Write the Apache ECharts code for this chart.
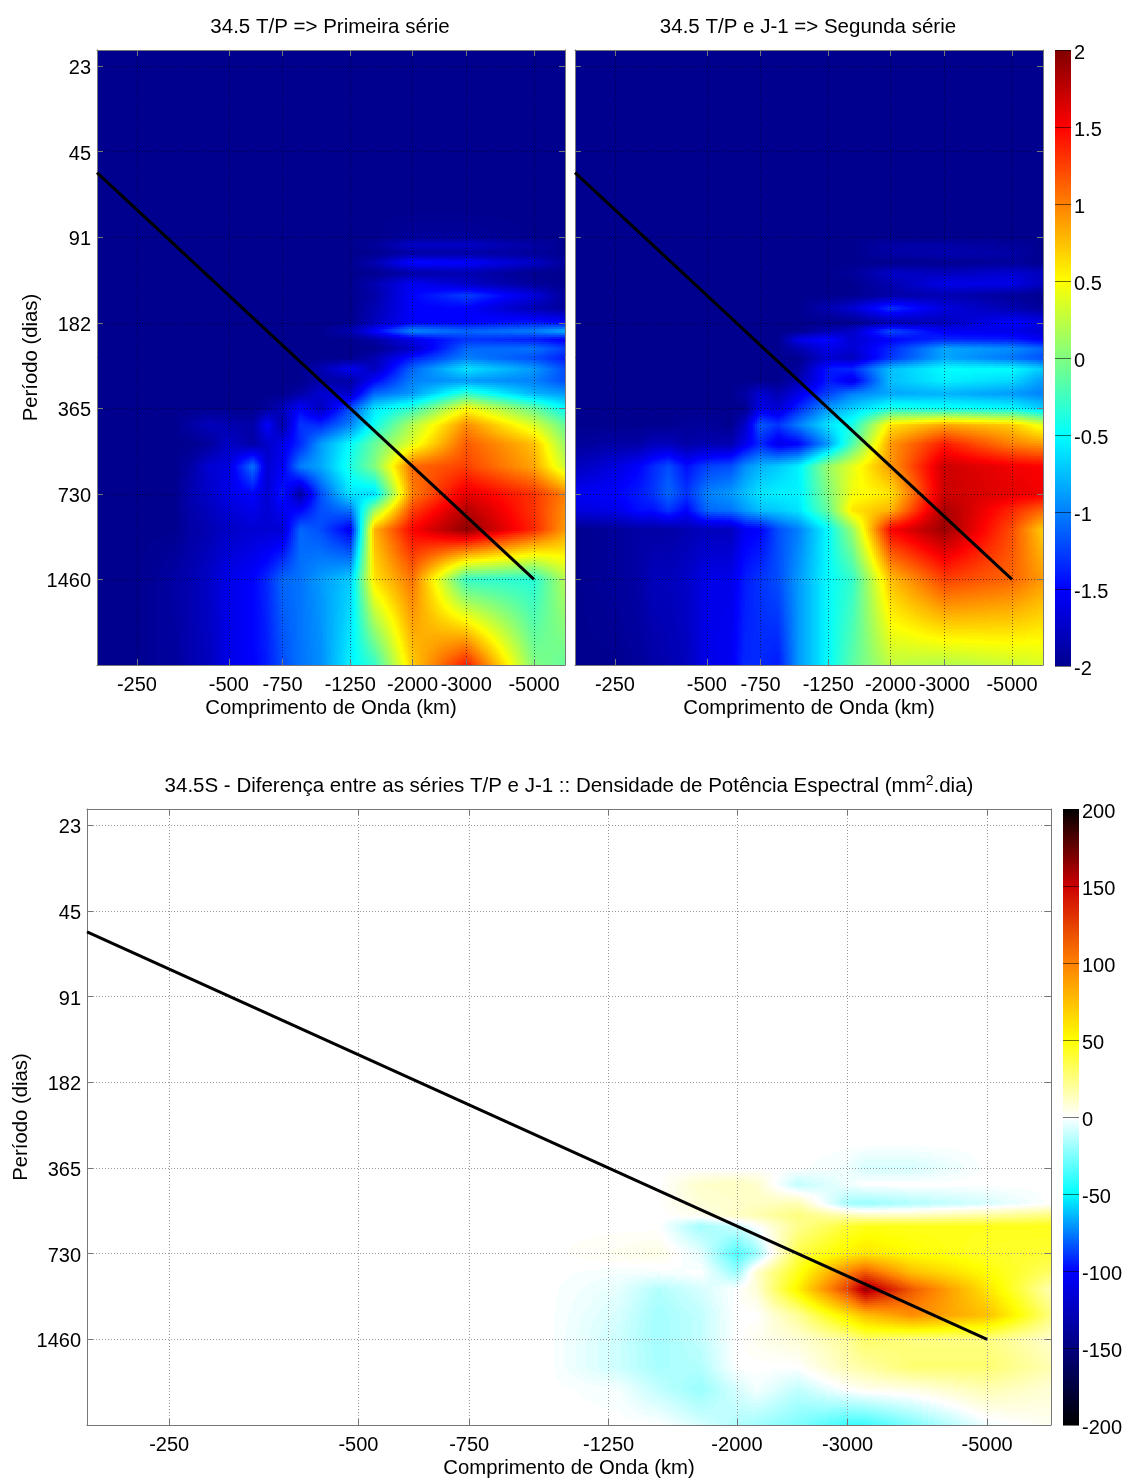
<!DOCTYPE html>
<html>
<head>
<meta charset="utf-8">
<script src="https://cdn.jsdelivr.net/npm/echarts@6/dist/echarts.min.js"></script>
<style>
  html, body { margin: 0; padding: 0; background: #fff; }
  #main { width: 1126px; height: 1479px; }
</style>
</head>
<body>
<div id="main"></div>
<script>
// wavelength (km, sign only on the labels) and period (days) of the spectrum samples
const colsKm = [185, 250, 300, 333, 375, 429, 500, 600, 667, 750, 857, 1000, 1250, 1500, 2000, 3000, 5000, 6318]
const rowsDays = [20, 73, 91, 97, 104, 112, 122, 133, 146, 162, 182, 195, 209, 225, 243, 265, 292, 324, 365, 417, 487, 584, 730, 834, 973, 1460, 2920]

const primeiraSerie = [
  [-2,-2,-2,-2,-2,-2,-2,-2,-2,-2,-2,-2,-2,-2,-2,-2,-2,-2],
  [-2,-2,-2,-2,-2,-2,-2,-2,-2,-2,-2,-2,-2,-2,-2,-2,-2,-2],
  [-2,-2,-2,-2,-2,-2,-2,-2,-2,-2,-2,-2,-2,-2,-1.95,-1.95,-2,-2],
  [-2,-2,-2,-2,-2,-2,-2,-2,-2,-2,-2,-2,-2,-1.95,-1.75,-1.75,-1.9,-2],
  [-2,-2,-2,-2,-2,-2,-2,-2,-2,-2,-2,-2,-2,-2,-1.9,-1.9,-1.95,-2],
  [-2,-2,-2,-2,-2,-2,-2,-2,-2,-2,-2,-2,-2,-1.85,-1.45,-1.5,-1.75,-1.95],
  [-2,-2,-2,-2,-2,-2,-2,-2,-2,-2,-2,-2,-2,-2,-1.9,-1.85,-2,-2],
  [-2,-2,-2,-2,-2,-2,-2,-2,-2,-2,-2,-2,-2,-1.85,-1.55,-1.75,-1.95,-2],
  [-2,-2,-2,-2,-2,-2,-2,-2,-2,-2,-2,-2,-2,-1.9,-1.5,-1.25,-1.65,-1.95],
  [-2,-2,-2,-2,-2,-2,-2,-2,-2,-2,-2,-2,-2,-1.85,-1.5,-1.5,-1.85,-1.95],
  [-2,-2,-2,-2,-2,-2,-2,-2,-2,-2,-2,-2,-2,-1.8,-1.5,-1.5,-1.4,-1.5],
  [-2,-2,-2,-2,-2,-2,-2,-2,-2,-2,-2,-2,-1.85,-1.5,-0.95,-1.1,-1,-0.8],
  [-2,-2,-2,-2,-2,-2,-2,-2,-2,-2,-2,-2,-2,-1.9,-1.6,-1.3,-1.4,-1.55],
  [-2,-2,-2,-2,-2,-2,-2,-2,-2,-2,-2,-2,-2,-2,-1.75,-1.1,-1.05,-1.25],
  [-2,-2,-2,-2,-2,-2,-2,-2,-2,-2,-2,-2,-2,-1.85,-1.4,-1,-1.2,-1.4],
  [-2,-2,-2,-2,-2,-2,-2,-2,-2,-2,-2,-1.85,-1.55,-1.8,-1.1,-0.6,-0.9,-1.2],
  [-2,-2,-2,-2,-2,-2,-2,-2,-2,-2,-2,-1.9,-1.9,-1.5,-1,-0.9,-1,-1.2],
  [-2,-2,-2,-2,-2,-2,-2,-2,-2,-2,-1.9,-1.7,-1.75,-1.1,-0.9,-0.3,-0.8,-0.9],
  [-2,-2,-2,-2,-2,-2,-2,-2,-1.95,-1.8,-1.5,-1.8,-1.2,-0.6,-0.3,0.5,-0.1,-0.5],
  [-2,-2,-2,-2,-1.9,-1.8,-1.85,-1.9,-1.5,-1.9,-1.3,-1.35,-1,-0.45,0.2,0.95,0.35,-0.1],
  [-2,-2,-2,-2,-2,-1.95,-1.75,-1.9,-1.75,-1.6,-1.35,-0.9,-0.5,-0.1,0.4,1.15,0.75,0.1],
  [-2,-2,-2,-2,-1.9,-1.7,-1.65,-1.05,-1.7,-1.55,-1,-0.85,-0.4,0,1.1,1.25,0.85,0.3],
  [-2,-2,-2,-2,-1.85,-1.75,-1.6,-1.5,-1.7,-1.4,-1.9,-1.2,-0.6,-0.65,1,1.6,1.3,1],
  [-2,-2,-2,-2,-1.88,-1.8,-1.68,-1.6,-1.7,-1.55,-1.5,-1.2,-1.05,0.1,1.25,1.8,1.3,0.95],
  [-2,-2,-2,-2,-1.9,-1.85,-1.75,-1.7,-1.7,-1.7,-1.1,-1.2,-1.55,0.8,1.5,1.95,1.35,0.9],
  [-2,-2,-1.95,-1.9,-1.85,-1.75,-1.6,-1.5,-1.35,-1.1,-1.05,-0.9,-0.7,0.6,1.05,-0.3,-0.35,0.2],
  [-2,-2,-1.95,-1.95,-1.85,-1.8,-1.6,-1.5,-1.4,-1.2,-1.05,-0.95,-0.55,-0.3,0.7,1.4,0,-0.1]
]

const segundaSerie = [
  [-2,-2,-2,-2,-2,-2,-2,-2,-2,-2,-2,-2,-2,-2,-2,-2,-2,-2],
  [-2,-2,-2,-2,-2,-2,-2,-2,-2,-2,-2,-2,-2,-2,-2,-2,-2,-2],
  [-2,-2,-2,-2,-2,-2,-2,-2,-2,-2,-2,-2,-2,-2,-2,-2,-2,-2],
  [-2,-2,-2,-2,-2,-2,-2,-2,-2,-2,-2,-2,-2,-2,-1.9,-1.9,-1.95,-2],
  [-2,-2,-2,-2,-2,-2,-2,-2,-2,-2,-2,-2,-2,-2,-1.9,-1.85,-1.9,-2],
  [-2,-2,-2,-2,-2,-2,-2,-2,-2,-2,-2,-2,-2,-2,-2,-2,-1.95,-2],
  [-2,-2,-2,-2,-2,-2,-2,-2,-2,-2,-2,-2,-2,-1.95,-1.75,-1.8,-1.7,-1.8],
  [-2,-2,-2,-2,-2,-2,-2,-2,-2,-2,-2,-2,-2,-2,-1.85,-1.6,-1.6,-1.8],
  [-2,-2,-2,-2,-2,-2,-2,-2,-2,-2,-2,-2,-2,-2,-1.9,-1.85,-1.95,-2],
  [-2,-2,-2,-2,-2,-2,-2,-2,-2,-2,-2,-2,-1.85,-1.7,-1.3,-1.65,-1.85,-1.95],
  [-2,-2,-2,-2,-2,-2,-2,-2,-2,-2,-2,-2,-2,-2,-1.85,-1.8,-1.5,-1.6],
  [-2,-2,-2,-2,-2,-2,-2,-2,-2,-2,-2,-2,-1.85,-1.75,-1.2,-1.55,-1.6,-1.7],
  [-2,-2,-2,-2,-2,-2,-2,-2,-2,-2,-2,-1.6,-1.45,-1.7,-1.5,-1.35,-1.4,-1.55],
  [-2,-2,-2,-2,-2,-2,-2,-2,-2,-2,-2,-1.85,-1.6,-1.7,-1.35,-0.85,-0.95,-1.1],
  [-2,-2,-2,-2,-2,-2,-2,-2,-2,-2,-2,-2,-1.7,-1.8,-1.3,-0.85,-1.05,-1.2],
  [-2,-2,-2,-2,-2,-2,-2,-2,-2,-2,-2,-1.95,-1.4,-1.35,-0.75,-0.5,-0.5,-0.7],
  [-2,-2,-2,-2,-2,-2,-2,-2,-2,-2,-2,-1.85,-1.4,-1.6,-0.75,-0.55,-0.65,-0.9],
  [-2,-2,-2,-2,-2,-2,-2,-2,-1.9,-1.7,-1.85,-1.6,-1.25,-1,-0.85,-0.8,-0.9,-1],
  [-2,-2,-2,-2,-2,-2,-2,-2,-2,-1.6,-1.7,-1.35,-0.9,-0.7,-0.4,-0.45,-0.5,-0.7],
  [-2,-2,-2,-2,-2,-1.95,-1.95,-2,-1.75,-1.15,-1.3,-1,-0.6,-0.4,0.6,0.85,0.7,0.4],
  [-1.95,-1.9,-1.9,-1.8,-1.8,-1.9,-1.85,-1.85,-1.6,-1.35,-1.6,-1.5,-0.9,-0.2,0.9,1.4,1,0.9],
  [-1.8,-1.65,-1.5,-1.35,-1.2,-1.45,-1.25,-1.2,-0.95,-0.8,-0.7,-0.55,0.1,0.4,0.9,1.7,1.55,1.5],
  [-1.55,-1.5,-1.4,-1.3,-1.1,-1.3,-1,-0.9,-0.75,-0.6,-0.55,-0.55,0,0.45,0.6,1.7,1.6,1.55],
  [-1.65,-1.6,-1.45,-1.45,-1.3,-1.5,-1.1,-1.05,-0.9,-0.75,-0.7,-0.6,-0.1,0.6,0.8,1.85,1.35,1.1],
  [-2,-1.95,-1.9,-1.9,-1.9,-1.85,-1.8,-1.8,-1.55,-1.5,-1.2,-1,-0.5,0.1,1.5,1.9,1.2,0.7],
  [-2,-1.95,-1.9,-1.8,-1.8,-1.75,-1.6,-1.6,-1.4,-1.3,-1.2,-0.9,-0.5,-0.3,0.75,1.25,1.1,0.9],
  [-2,-2,-1.95,-1.9,-1.85,-1.8,-1.6,-1.55,-1.35,-1.35,-1.4,-0.9,-0.5,-0.15,0.25,0.2,0.3,0.35]
]

// the difference panel has its own sampling, features fall between the columns above
const difColsKm = [185, 1000, 1300, 1500, 1750, 2000, 2150, 2500, 3000, 3200, 3800, 5000, 6318]
const difRowsDays = [20, 300, 365, 417, 487, 535, 584, 730, 850, 973, 1200, 1460, 1825, 2190, 2920]
const diferenca = [
  [0,0,0,0,0,0,0,0,0,0,0,0,0],
  [0,0,0,0,0,0,0,0,0,0,0,0,0],
  [0,0,0,0,0,0,0,0,-3,-8,-8,0,0],
  [0,0,0,0,10,12,10,-12,-3,0,0,0,0],
  [0,0,0,0,8,10,12,15,-18,-20,-15,-8,0],
  [0,0,0,0,3,12,15,25,15,12,12,18,25],
  [0,0,0,0,-18,-10,0,22,40,45,45,45,45],
  [0,0,3,5,-5,-35,-20,35,55,60,50,42,40],
  [0,0,-2,-2,0,-20,10,45,100,115,75,50,30],
  [0,0,-5,-15,-8,0,8,55,125,165,115,60,15],
  [0,0,-8,-18,-12,0,0,20,60,75,95,75,25],
  [0,0,-10,-18,-12,0,3,8,20,30,25,25,10],
  [0,0,-10,-17,-15,0,0,0,15,18,28,28,15],
  [0,0,-2,-12,-20,-8,-2,-12,0,3,5,15,8],
  [0,0,0,0,-8,-15,-18,-25,-38,-38,-25,-3,3]
]

const xTicksKm = [250, 500, 750, 1250, 2000, 3000, 5000]
const xTickLabels = ['-250', '-500', '-750', '-1250', '-2000', '-3000', '-5000']
const yTicksDays = [22.8, 45.6, 91.25, 182.5, 365, 730, 1460]
const yTickLabels = ['23', '45', '91', '182', '365', '730', '1460']
const lineKm = [185, 5000]
const lineDays = [54, 1460]
const barTicksTop = [-2, 2]
const barTicksBottom = [-200, 200]

const jetColors = ['#00008f', '#0000ff', '#0080ff', '#00ffff', '#80ff80', '#ffff00', '#ff8000', '#ff0000', '#800000']
const difColors = ['#000000', '#000080', '#0000ff', '#00ffff', '#ffffff', '#ffff00', '#ff8000', '#cc0000', '#000000']

const font = 'Liberation Sans'
const fontSize = 20

function makeLut(colors) {
  const lut = []
  for (let i = 0; i <= 256; i++) lut.push(echarts.color.lerp(i / 256, colors))
  return lut
}

// one datum per cell, corners are the values
function makeCells(cols, rows, values) {
  const cells = []
  for (let r = 0; r < rows.length - 1; r++) {
    for (let c = 0; c < cols.length - 1; c++) {
      cells.push([
        Math.log(cols[c]), Math.log(cols[c + 1]), Math.log2(rows[r]), Math.log2(rows[r + 1]),
        values[r][c], values[r][c + 1], values[r + 1][c], values[r + 1][c + 1],
      ])
    }
  }
  return cells
}

// same job as matlab "shading interp": every cell is shaded between its 4 corners
function shadedCell(lut, vMin, vMax) {
  const colorOf = (v) => lut[Math.max(0, Math.min(256, Math.round(((v - vMin) / (vMax - vMin)) * 256)))]
  return function (params, api) {
    const a = api.coord([api.value(0), api.value(2)])
    const b = api.coord([api.value(1), api.value(3)])
    const v00 = api.value(4)
    const v10 = api.value(5)
    const v01 = api.value(6)
    const v11 = api.value(7)
    const x0 = Math.round(a[0])
    const x1 = Math.round(b[0])
    const y0 = Math.round(a[1])
    const y1 = Math.round(b[1])
    const rect = (x, y, w, h, fill) => ({
      type: 'rect',
      shape: { x, y, width: w, height: h },
      style: { fill },
      silent: true,
    })
    if (v00 === v10 && v00 === v01 && v00 === v11) {
      return { type: 'group', children: [rect(x0, y0, x1 - x0, y1 - y0, colorOf(v00))] }
    }
    const children = []
    const step = 2
    for (let y = y0; y < y1; y += step) {
      const h = Math.min(step, y1 - y)
      const t = (y + h / 2 - a[1]) / (b[1] - a[1])
      for (let x = x0; x < x1; x += step) {
        const w = Math.min(step, x1 - x)
        const s = (x + w / 2 - a[0]) / (b[0] - a[0])
        const v = v00 * (1 - s) * (1 - t) + v10 * s * (1 - t) + v01 * (1 - s) * t + v11 * s * t
        children.push(rect(x, y, w, h, colorOf(v)))
      }
    }
    return { type: 'group', children }
  }
}

const grids = [
  { left: 97, width: 468, top: 50, height: 615, outerBoundsMode: 'none' },
  { left: 575, width: 468, top: 50, height: 615, outerBoundsMode: 'none' },
  { left: 87, width: 964, top: 809, height: 616, outerBoundsMode: 'none' },
  { left: 1055, width: 16, top: 50, height: 616, outerBoundsMode: 'none' },
  { left: 1063, width: 16, top: 809, height: 616, outerBoundsMode: 'none' },
]

const xLogTicks = xTicksKm.map((v) => Math.log(v))
const yLogTicks = yTicksDays.map((v) => Math.log2(v))
const axisColor = '#777'
const textStyle = { color: '#000', fontFamily: font, fontSize }
const titleStyle = { ...textStyle, fontSize: 20.5, fontWeight: 'normal' }
const nameStyle = { ...textStyle, fontSize: 20.3 }

function pickLabel(ticks, labels, value) {
  let best = 0
  ticks.forEach((t, i) => {
    if (Math.abs(t - value) < Math.abs(ticks[best] - value)) best = i
  })
  return labels[best]
}

function xAxisFor(gridIndex, main, gridColor, name) {
  return {
    type: 'value',
    gridIndex,
    position: main ? 'bottom' : 'top',
    min: Math.log(185),
    max: Math.log(6318),
    z: 3,
    name: main ? name : '',
    nameLocation: 'middle',
    nameGap: 33,
    nameTextStyle: nameStyle,
    axisLine: { show: true, onZero: false, lineStyle: { color: axisColor } },
    axisTick: { show: true, inside: true, length: 6, customValues: xLogTicks, lineStyle: { color: axisColor } },
    axisLabel: {
      show: main,
      customValues: xLogTicks,
      margin: 10,
      ...textStyle,
      formatter: (v) => pickLabel(xLogTicks, xTickLabels, v),
    },
    splitLine: { show: main, lineStyle: { type: [1, 2], color: gridColor } },
  }
}

function yAxisFor(gridIndex, main, gridColor, nameGap) {
  return {
    type: 'value',
    gridIndex,
    position: main ? 'left' : 'right',
    inverse: true,
    min: Math.log2(20),
    max: Math.log2(2920),
    z: 3,
    name: main ? 'Período (dias)' : '',
    nameLocation: 'middle',
    nameGap,
    nameMoveOverlap: false,
    nameTextStyle: nameStyle,
    axisLine: { show: true, onZero: false, lineStyle: { color: axisColor } },
    axisTick: { show: true, inside: true, length: 6, customValues: yLogTicks, lineStyle: { color: axisColor } },
    axisLabel: {
      show: main,
      customValues: yLogTicks,
      margin: 6,
      verticalAlign: 'top',
      lineHeight: 5,
      ...textStyle,
      formatter: (v) => pickLabel(yLogTicks, yTickLabels, v),
    },
    splitLine: { show: main, lineStyle: { type: [1, 2], color: gridColor } },
  }
}

function barAxes(gridIndex, range, interval) {
  return {
    x: { type: 'value', gridIndex, min: 0, max: 1, show: false },
    y: {
      type: 'value',
      gridIndex,
      position: 'right',
      min: range[0],
      max: range[1],
      interval,
      z: 3,
      axisLine: { show: false, onZero: false },
      axisTick: { show: true, inside: true, length: 16, lineStyle: { color: 'rgba(0,0,0,0.55)' } },
      axisLabel: {
        show: true,
        margin: 3,
        verticalAlign: 'top',
        lineHeight: 6,
        ...textStyle,
        showMinLabel: true,
        showMaxLabel: true,
      },
      splitLine: { show: false },
    },
  }
}

const barTop = barAxes(3, barTicksTop, 0.5)
const barBottom = barAxes(4, barTicksBottom, 50)
const darkGrid = 'rgba(0,0,0,0.55)'
const greyGrid = '#999'

const xAxis = [
  xAxisFor(0, true, darkGrid, 'Comprimento de Onda (km)'), xAxisFor(0, false),
  xAxisFor(1, true, darkGrid, 'Comprimento de Onda (km)'), xAxisFor(1, false),
  xAxisFor(2, true, greyGrid, 'Comprimento de Onda (km)'), xAxisFor(2, false),
  barTop.x, barBottom.x,
]
const yAxis = [
  yAxisFor(0, true, darkGrid, 56), yAxisFor(0, false),
  // second panel has the gridlines and ticks on the left too but no labels
  { ...yAxisFor(1, true, darkGrid, 56), name: '', axisLabel: { show: false, customValues: yLogTicks } }, yAxisFor(1, false),
  yAxisFor(2, true, greyGrid, 56), yAxisFor(2, false),
  barTop.y, barBottom.y,
]

function fieldSeries(axisIndex, cols, rows, values, lut, vMin, vMax) {
  return {
    type: 'custom',
    xAxisIndex: axisIndex,
    yAxisIndex: axisIndex,
    silent: true,
    animation: false,
    progressive: 0,
    z: 2,
    encode: { x: 0, y: 2 },
    data: makeCells(cols, rows, values),
    renderItem: shadedCell(lut, vMin, vMax),
  }
}

function lineSeries(axisIndex) {
  return {
    type: 'line',
    xAxisIndex: axisIndex,
    yAxisIndex: axisIndex,
    silent: true,
    animation: false,
    showSymbol: false,
    z: 5,
    lineStyle: { color: '#000', width: 3 },
    data: lineKm.map((km, i) => [Math.log(km), Math.log2(lineDays[i])]),
  }
}

function barSeries(axisIndex, range, colors) {
  return {
    type: 'custom',
    xAxisIndex: axisIndex,
    yAxisIndex: axisIndex,
    silent: true,
    animation: false,
    z: 2,
    data: [[0, 1, range[0], range[1]]],
    encode: { x: 0, y: 2 },
    renderItem(params, api) {
      const a = api.coord([api.value(0), api.value(3)])
      const b = api.coord([api.value(1), api.value(2)])
      const stops = colors.map((color, i) => ({ offset: 1 - i / (colors.length - 1), color })).reverse()
      return {
        type: 'rect',
        shape: { x: a[0], y: a[1], width: b[0] - a[0], height: b[1] - a[1] },
        style: { fill: new echarts.graphic.LinearGradient(0, 0, 0, 1, stops) },
      }
    },
  }
}

const jetLut = makeLut(jetColors)
const difLut = makeLut(difColors)

const option = {
  backgroundColor: '#fff',
  animation: false,
  title: [
    { text: '34.5 T/P => Primeira série', left: 325, top: 12, textAlign: 'center', textStyle: titleStyle },
    { text: '34.5 T/P e J-1 => Segunda série', left: 803, top: 12, textAlign: 'center', textStyle: titleStyle },
    {
      text: '34.5S - Diferença entre as séries T/P e J-1 :: Densidade de Potência Espectral (mm{sup|2}.dia)',
      left: 564,
      top: 769,
      textAlign: 'center',
      textStyle: {
        ...titleStyle,
        rich: {
          sup: { fontFamily: font, fontSize: 14, color: '#000', verticalAlign: 'top', lineHeight: 24 },
        },
      },
    },
  ],
  grid: grids,
  xAxis,
  yAxis,
  series: [
    fieldSeries(0, colsKm, rowsDays, primeiraSerie, jetLut, -2, 2),
    fieldSeries(2, colsKm, rowsDays, segundaSerie, jetLut, -2, 2),
    fieldSeries(4, difColsKm, difRowsDays, diferenca, difLut, -200, 200),
    lineSeries(0),
    lineSeries(2),
    lineSeries(4),
    barSeries(6, barTicksTop, jetColors),
    barSeries(7, barTicksBottom, difColors),
  ],
}

const chart = echarts.init(document.getElementById('main'), null, { renderer: 'canvas' })
chart.setOption(option)
</script>
</body>
</html>
